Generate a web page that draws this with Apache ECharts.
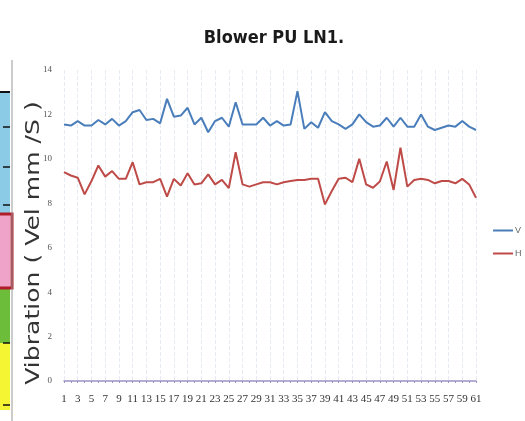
<!DOCTYPE html>
<html>
<head>
<meta charset="utf-8">
<script src="https://cdn.jsdelivr.net/npm/echarts@6/dist/echarts.min.js"></script>
<style>
  html, body { margin: 0; padding: 0; background: #fff; }
  #main { width: 525px; height: 421px; }
</style>
</head>
<body>
<div id="main"></div>
<script>
  // x categories 1..61
  var categories = [];
  for (var i = 1; i <= 61; i++) categories.push(String(i));

  var seriesNames = ['V', 'H'];

  var vValues = [
    11.55, 11.5, 11.7, 11.5, 11.5, 11.75, 11.55, 11.8, 11.5, 11.7,
    12.1, 12.2, 11.75, 11.8, 11.6, 12.7, 11.9, 11.95, 12.3, 11.55,
    11.85, 11.2, 11.7, 11.85, 11.45, 12.55, 11.55, 11.55, 11.55, 11.85,
    11.5, 11.7, 11.5, 11.55, 13.05, 11.35, 11.65, 11.4, 12.1, 11.7,
    11.55, 11.35, 11.55, 12.0, 11.65, 11.45, 11.5, 11.85, 11.45, 11.85,
    11.45, 11.45, 12.0, 11.45, 11.3, 11.4, 11.5, 11.45, 11.7, 11.45,
    11.3
  ];
  var hValues = [
    9.4, 9.25, 9.15, 8.4, 9.0, 9.7, 9.2, 9.45, 9.1, 9.1,
    9.85, 8.85, 8.95, 8.95, 9.1, 8.3, 9.1, 8.8, 9.35, 8.85,
    8.9, 9.3, 8.85, 9.05, 8.68, 10.3, 8.85, 8.75, 8.85, 8.95,
    8.95, 8.85, 8.95, 9.0, 9.05, 9.05, 9.1, 9.1, 7.95, 8.55,
    9.1, 9.15, 8.95, 10.0, 8.85, 8.7, 8.98, 9.88, 8.6, 10.5,
    8.75, 9.05, 9.1, 9.05, 8.9, 9.0, 9.0, 8.9, 9.1, 8.85,
    8.25
  ];
  var yTicks = [0, 2, 4, 6, 8, 10, 12, 14];
  var yTitle = 'Vibration ( Vel mm /S )';

  var chart = echarts.init(document.getElementById('main'));

  var option = {
    backgroundColor: '#fff',
    animation: false,
    title: {
      text: 'Blower PU LN1.',
      left: 269,
      textAlign: 'center',
      top: 24,
      textStyle: {
        fontFamily: 'Liberation Sans Narrow, DejaVu Sans Condensed, sans-serif',
        fontSize: 18,
        fontWeight: 'bold',
        color: '#1a1a1a'
      }
    },
    legend: {
      data: seriesNames,
      orient: 'vertical',
      left: 488,
      top: 221,
      itemWidth: 20,
      itemHeight: 2,
      itemGap: 14,
      icon: 'rect',
      textStyle: { fontSize: 9, color: '#666', padding: [0, 0, 0, -3] }
    },
    grid: { left: 64, right: 49, top: 70, bottom: 40 },
    xAxis: {
      type: 'category',
      data: categories,
      boundaryGap: false,
      axisLine: { lineStyle: { color: '#9b93c3', width: 1.5 } },
      axisTick: { show: true, interval: 0, length: 2, lineStyle: { color: '#9b93c3' } },
      axisLabel: {
        interval: 1,
        margin: 13,
        fontSize: 11,
        fontFamily: 'Liberation Serif, serif',
        color: '#333'
      },
      splitLine: {
        show: true,
        interval: 1,
        lineStyle: { color: '#e6ebf3', type: 'dashed', width: 1 }
      }
    },
    yAxis: {
      type: 'value',
      min: yTicks[0],
      max: yTicks[yTicks.length - 1],
      interval: 2,
      axisLine: { show: false },
      axisTick: { show: false },
      axisLabel: {
        fontSize: 9,
        margin: 12,
        fontFamily: 'Liberation Serif, serif',
        color: '#555'
      },
      splitLine: { show: false }
    },
    series: [
      {
        name: seriesNames[0],
        type: 'line',
        data: vValues,
        symbol: 'none',
        color: '#4a7ebb',
        lineStyle: { width: 2, color: '#4a7ebb' }
      },
      {
        name: seriesNames[1],
        type: 'line',
        data: hValues,
        symbol: 'none',
        color: '#be4b48',
        lineStyle: { width: 2, color: '#be4b48' }
      }
    ],
    graphic: [
      // y axis title, stretched along its length like in the photo
      {
        type: 'text',
        x: 34, y: 243,
        rotation: Math.PI / 2,
        scaleX: 1.32,
        style: {
          text: yTitle,
          fontFamily: 'DejaVu Sans, sans-serif',
          fontSize: 19,
          fill: '#333',
          align: 'center',
          verticalAlign: 'middle'
        }
      },
      // colour strip cut off at the left edge of the photo
      { type: 'rect', shape: { x: 0, y: 92, width: 10, height: 121 }, style: { fill: '#8ccbe6' } },
      { type: 'rect', shape: { x: 0, y: 213, width: 10, height: 75 }, style: { fill: '#efa3c8' } },
      { type: 'rect', shape: { x: 0, y: 288, width: 10, height: 55 }, style: { fill: '#6cbd3a' } },
      { type: 'rect', shape: { x: 0, y: 343, width: 10, height: 67 }, style: { fill: '#f6f534' } },
      { type: 'rect', shape: { x: -2, y: 214, width: 14, height: 74 }, style: { fill: 'none', stroke: '#b01c2a', lineWidth: 3 } },
      { type: 'line', shape: { x1: 0, y1: 92, x2: 10, y2: 92 }, style: { stroke: '#111', lineWidth: 2 } },
      { type: 'line', shape: { x1: 3, y1: 127, x2: 10, y2: 127 }, style: { stroke: '#111', lineWidth: 1.5 } },
      { type: 'line', shape: { x1: 3, y1: 167, x2: 10, y2: 167 }, style: { stroke: '#111', lineWidth: 1.5 } },
      { type: 'line', shape: { x1: 3, y1: 205, x2: 10, y2: 205 }, style: { stroke: '#111', lineWidth: 1.5 } },
      { type: 'line', shape: { x1: 3, y1: 343, x2: 10, y2: 343 }, style: { stroke: '#111', lineWidth: 1.5 } },
      { type: 'line', shape: { x1: 3, y1: 405, x2: 10, y2: 405 }, style: { stroke: '#111', lineWidth: 1.5 } },
      { type: 'line', shape: { x1: 12, y1: 60, x2: 12, y2: 421 }, style: { stroke: '#999', lineWidth: 1 } }
    ]
  };

  chart.setOption(option);
</script>
</body>
</html>
